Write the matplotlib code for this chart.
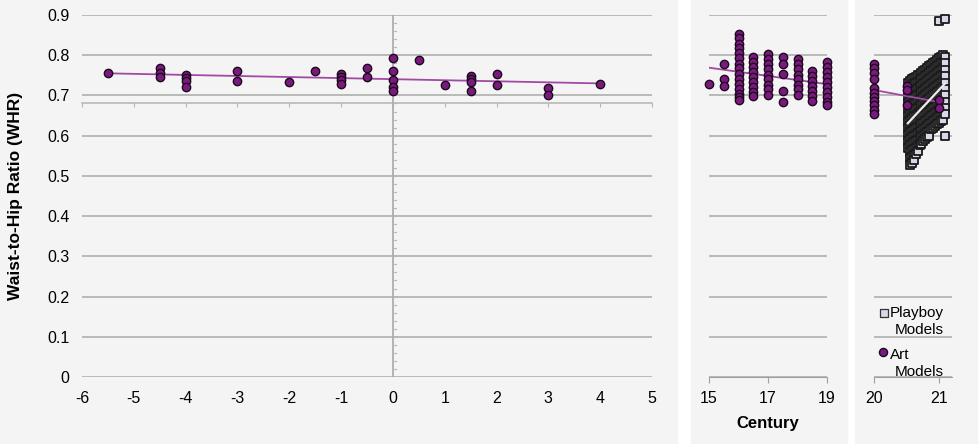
import matplotlib
matplotlib.use("Agg")
import matplotlib.pyplot as plt
from matplotlib.patches import Rectangle
import numpy as np

plt.rcParams['font.family'] = ['Liberation Sans', 'DejaVu Sans']
plt.rcParams['axes.unicode_minus'] = False

# Art models, left panel
art_x = [-5.5, -4.5, -4.5, -4.5, -4, -4, -4, -4, -3, -3, -2, -1.5,
         -1, -1, -1, -1, -0.5, -0.5, 0, 0, 0, 0, 0, 0.5, 1,
         1.5, 1.5, 1.5, 1.5, 2, 2, 3, 3, 4]
art_y = [0.757, 0.768, 0.755, 0.746, 0.752, 0.744, 0.735, 0.722, 0.761, 0.736, 0.733, 0.761,
         0.754, 0.746, 0.738, 0.729, 0.767, 0.746, 0.792, 0.761, 0.739, 0.722, 0.711, 0.787, 0.727,
         0.748, 0.741, 0.733, 0.712, 0.754, 0.725, 0.719, 0.700, 0.729]

# Art models by century, middle panel
century_cols = [15.0, 15.5, 16.0, 16.5, 17.0, 17.5, 18.0, 18.5, 19.0]
century_whr = [
    [0.729],
    [0.777, 0.742, 0.723],
    [0.854, 0.842, 0.829, 0.817, 0.805, 0.792, 0.779, 0.767, 0.754, 0.742,
     0.729, 0.717, 0.704, 0.696, 0.688],
    [0.796, 0.784, 0.771, 0.758, 0.746, 0.733, 0.721, 0.708, 0.698],
    [0.802, 0.790, 0.777, 0.765, 0.752, 0.740, 0.727, 0.715, 0.702],
    [0.796, 0.779, 0.754, 0.712, 0.683],
    [0.790, 0.777, 0.765, 0.752, 0.740, 0.727, 0.715, 0.702],
    [0.760, 0.748, 0.735, 0.723, 0.710, 0.698, 0.685],
    [0.783, 0.771, 0.758, 0.746, 0.733, 0.721, 0.708, 0.696, 0.683, 0.675],
]

# Art models 20th-21st century, right panel
modern_cols = [20.0, 20.5, 21.0]
modern_whr = [
    [0.777, 0.767, 0.756, 0.740, 0.718, 0.707, 0.696, 0.686, 0.675, 0.665, 0.654],
    [0.724, 0.713, 0.675],
    [0.689, 0.670],
]

# Playboy models, right panel
playboy_cols = [20.52, 20.55, 20.58, 20.61, 20.64, 20.67, 20.70, 20.73, 20.76, 20.79,
                20.82, 20.85, 20.88, 20.91, 20.94, 20.97, 21.00, 21.03, 21.06, 21.09]
playboy_whr = [
    [0.730, 0.714, 0.698, 0.682, 0.666, 0.650, 0.634, 0.618, 0.602, 0.586, 0.570],
    [0.736, 0.720, 0.704, 0.688, 0.672, 0.656, 0.640, 0.624, 0.608, 0.592, 0.576, 0.560, 0.544, 0.528],
    [0.740, 0.724, 0.708, 0.692, 0.676, 0.660, 0.644, 0.628, 0.612, 0.596, 0.580, 0.564, 0.548, 0.532],
    [0.744, 0.728, 0.712, 0.696, 0.680, 0.664, 0.648, 0.632, 0.616, 0.600, 0.584, 0.568, 0.552, 0.540],
    [0.746, 0.730, 0.714, 0.698, 0.682, 0.666, 0.650, 0.634, 0.618, 0.602, 0.586, 0.570, 0.554],
    [0.750, 0.734, 0.718, 0.702, 0.686, 0.670, 0.654, 0.638, 0.622, 0.606, 0.590, 0.574, 0.562],
    [0.752, 0.736, 0.720, 0.704, 0.688, 0.672, 0.656, 0.640, 0.624, 0.608, 0.592, 0.576],
    [0.756, 0.740, 0.724, 0.708, 0.692, 0.676, 0.660, 0.644, 0.628, 0.612, 0.596, 0.580],
    [0.760, 0.744, 0.728, 0.712, 0.696, 0.680, 0.664, 0.648, 0.632, 0.616, 0.600, 0.586],
    [0.764, 0.748, 0.732, 0.716, 0.700, 0.684, 0.668, 0.652, 0.636, 0.620, 0.604, 0.592],
    [0.768, 0.752, 0.736, 0.720, 0.704, 0.688, 0.672, 0.656, 0.640, 0.624, 0.608, 0.596],
    [0.772, 0.756, 0.740, 0.724, 0.708, 0.692, 0.676, 0.660, 0.644, 0.628, 0.612, 0.600],
    [0.776, 0.760, 0.744, 0.728, 0.712, 0.696, 0.680, 0.664, 0.648, 0.632, 0.616],
    [0.780, 0.764, 0.748, 0.732, 0.716, 0.700, 0.684, 0.668, 0.652, 0.636, 0.620],
    [0.784, 0.768, 0.752, 0.736, 0.720, 0.704, 0.688, 0.672, 0.656, 0.640, 0.624],
    [0.788, 0.772, 0.756, 0.740, 0.724, 0.708, 0.692, 0.676, 0.660, 0.644, 0.628],
    [0.792, 0.776, 0.760, 0.744, 0.728, 0.712, 0.696, 0.680, 0.664, 0.648, 0.632, 0.884],
    [0.796, 0.780, 0.764, 0.748, 0.732, 0.716, 0.700, 0.684, 0.668, 0.652, 0.636],
    [0.800, 0.784, 0.768, 0.752, 0.736, 0.720, 0.704, 0.688, 0.672, 0.656, 0.640],
    [0.796, 0.780, 0.764, 0.748, 0.732, 0.716, 0.700, 0.684, 0.668, 0.654, 0.600, 0.890],
]

y_ticks = [0, 0.1, 0.2, 0.3, 0.4, 0.5, 0.6, 0.7, 0.8, 0.9]

PURPLE = '#7a1a7e'
EDGE = '#1c0a1c'
LINE = '#a04aa6'
GRID = '#b4b4b4'
BG = '#f4f4f4'
SQ_FILL = '#ddd5e8'
W, H = 980, 444


def flatten(cols, vals):
    xs, ys = [], []
    for c, v in zip(cols, vals):
        xs += [c] * len(v)
        ys += v
    return np.array(xs), np.array(ys)


def box(x0, x1, y_top, y_bot):
    return [x0 / W, 1 - y_bot / H, (x1 - x0) / W, (y_bot - y_top) / H]


def fit_line(ax, x, y, color, lw=1.3):
    k, b = np.polyfit(x, y, 1)
    xx = np.array([x.min(), x.max()])
    ax.plot(xx, k * xx + b, color=color, lw=lw, zorder=4)


def style(ax):
    ax.set_facecolor('none')
    ax.set_zorder(2)
    ax.set_ylim(0, 0.9)
    ax.set_yticks(y_ticks)
    for y in y_ticks:
        ax.axhline(y, color=GRID, lw=1.3, zorder=1)
    for s in ax.spines.values():
        s.set_visible(False)


fig = plt.figure(figsize=(9.8, 4.44), dpi=100, facecolor='white')

# panel backgrounds
for x0, x1 in [(0, 677), (691, 847), (855, 977)]:
    fig.patches.append(Rectangle((x0 / W, 0), (x1 - x0) / W, 1,
                                 transform=fig.transFigure, color=BG, zorder=-5))

# left panel
ax1 = fig.add_axes(box(82, 652, 15, 377))
style(ax1)
ax1.set_xlim(-6, 5)
ax1.set_xticks(range(-6, 6))
ax1.tick_params(axis='x', length=0, pad=10, labelsize=11.5)
ax1.tick_params(axis='y', length=0, pad=9, labelsize=11.5)
ax1.set_yticklabels(['0', '0.1', '0.2', '0.3', '0.4', '0.5', '0.6', '0.7', '0.8', '0.9'])
ax1.axvline(0, color='#a8a8a8', lw=1.2, zorder=2)
for t in np.arange(0.02, 0.9, 0.02):
    ax1.plot([0, 0.06], [t, t], color='#b8b8b8', lw=0.8, zorder=2)
sec = ax1.secondary_xaxis(0.68 / 0.9)
for side in ['top', 'bottom']:
    sec.spines[side].set_color('#b4b4b4')
    sec.spines[side].set_linewidth(1.1)
sec.set_xticks(range(-6, 6))
sec.tick_params(length=3, direction='in', color='#b4b4b4', labelbottom=False, labeltop=False)
ax1.set_ylabel('Waist-to-Hip Ratio (WHR)', fontsize=12.5, fontweight='bold')
ax1.yaxis.set_label_coords(-0.104, 0.5)
ax = np.array(art_x)
ay = np.array(art_y)
fit_line(ax1, ax, ay, LINE)
ax1.scatter(ax, ay, s=36, c=PURPLE, edgecolors=EDGE, linewidths=1.0, zorder=5)

# middle panel
ax2 = fig.add_axes(box(709, 827, 15, 377))
style(ax2)
ax2.set_xlim(15, 19)
ax2.set_xticks([15, 17, 19])
ax2.set_yticklabels([])
ax2.tick_params(axis='y', length=0)
ax2.tick_params(axis='x', length=4, color='#a0a0a0', pad=6, labelsize=11.5)
ax2.spines['bottom'].set_visible(True)
ax2.spines['bottom'].set_color('#a0a0a0')
mx, my = flatten(century_cols, century_whr)
fit_line(ax2, mx, my, LINE)
ax2.scatter(mx, my, s=36, c=PURPLE, edgecolors=EDGE, linewidths=1.0, zorder=5, clip_on=False)
ax2.set_xlabel('Century', fontsize=12, fontweight='bold', labelpad=7)

# right panel
ax3 = fig.add_axes(box(874, 952, 15, 377))
style(ax3)
ax3.set_xlim(20, 21.2)
ax3.set_xticks([20, 21])
ax3.set_yticklabels([])
ax3.tick_params(axis='y', length=0)
ax3.tick_params(axis='x', length=4, color='#a0a0a0', pad=6, labelsize=11.5)
ax3.spines['bottom'].set_visible(True)
ax3.spines['bottom'].set_color('#a0a0a0')
px, py = flatten(playboy_cols, playboy_whr)
ax3.scatter(px, py, s=30, marker='s', c=SQ_FILL, edgecolors='#1a1a1a',
            linewidths=1.3, zorder=3, clip_on=False)
rx, ry = flatten(modern_cols, modern_whr)
ax3.scatter(rx, ry, s=36, c=PURPLE, edgecolors=EDGE, linewidths=1.0, zorder=5, clip_on=False)
fit_line(ax3, rx, ry, LINE)
fit_line(ax3, px, py, '#ececec', lw=1.6)

# legend
ax3.scatter([0.13], [0.178], s=28, marker='s', c=SQ_FILL, edgecolors='#333333',
            linewidths=0.9, transform=ax3.transAxes, clip_on=False, zorder=6)
ax3.text(0.2, 0.178, 'Playboy', transform=ax3.transAxes, fontsize=11, va='center')
ax3.text(0.27, 0.131, 'Models', transform=ax3.transAxes, fontsize=11, va='center')
ax3.scatter([0.12], [0.069], s=34, c=PURPLE, edgecolors=EDGE, linewidths=1.0,
            transform=ax3.transAxes, clip_on=False, zorder=6)
ax3.text(0.2, 0.061, 'Art', transform=ax3.transAxes, fontsize=11, va='center')
ax3.text(0.27, 0.014, 'Models', transform=ax3.transAxes, fontsize=11, va='center')

fig.savefig('out.png', dpi=100, facecolor='white')
